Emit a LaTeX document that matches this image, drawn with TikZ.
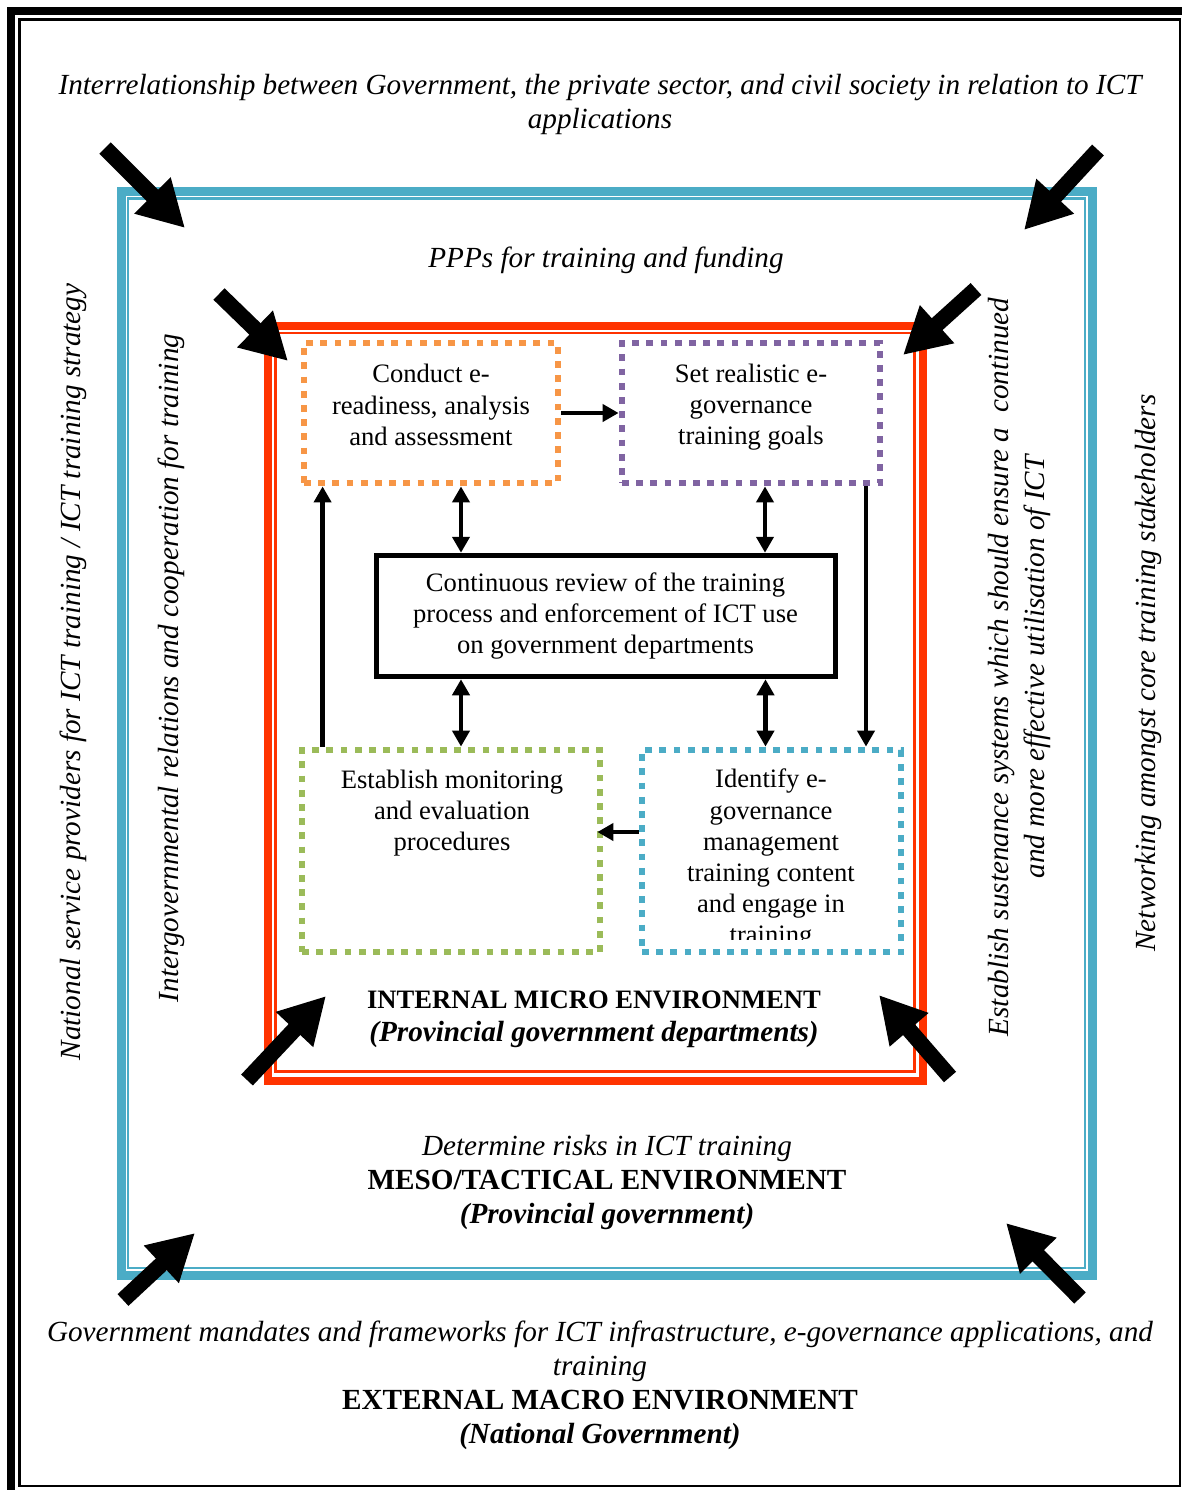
\documentclass[tikz,border=0pt]{standalone}
\usepackage{fontspec}
\setmainfont{Liberation Serif}
\usetikzlibrary{positioning, arrows.meta}

\definecolor{frameblue}{HTML}{4BACC6}
\definecolor{framered}{HTML}{FF3300}
\definecolor{dotorange}{HTML}{F79646}
\definecolor{dotpurple}{HTML}{8064A2}
\definecolor{dotgreen}{HTML}{9BBB59}

\tikzset{
	dotbox/.style={draw=#1, line width=3.4pt, dash pattern=on 3.4pt off 3.7pt, inner sep=0pt},
	boxtext/.style={align=center, font=\fontsize{13.3}{15.6}\selectfont},
	frametext/.style={align=center, font=\fontsize{14.6}{17}\selectfont\itshape},
	link/.style={line width=2.3pt, -{Triangle[length=8pt,width=8.5pt]}},
	twoway/.style={line width=2.3pt, {Triangle[length=8pt,width=8.5pt]}-{Triangle[length=8pt,width=8.5pt]}},
	bigarrow/.style={line width=8pt, -{Triangle[length=23pt,width=24pt]}},
}

\begin{document}
\begin{tikzpicture}[x=0.5pt, y=-0.5pt]
					\useasboundingbox[fill=white] (0,0) rectangle (1182,1490);
					
					% page frame
					\draw[line width=4pt] (11,1490) -- (11,11) -- (1182,11);
					\draw[line width=1.2pt] (19.5,19.5) rectangle (1180,1486);
					% meso frame
					\draw[frameblue, line width=4.5pt] (121,191.5) rectangle (1092.5,1275);
					\draw[frameblue, line width=1.25pt] (128,198.5) rectangle (1085,1268);
					% micro frame
					\draw[framered, line width=4pt] (267.5,325.5) rectangle (922.5,1081);
					\draw[framered, line width=1.25pt] (275.5,333) rectangle (914.5,1071.5);
					
					\node[dotbox=dotorange, minimum width=127pt, minimum height=70pt] (conduct) at (431,413) {};
					\node[dotbox=dotpurple, minimum width=129pt, minimum height=70pt] (goals) at (751,413) {};
					\node[dotbox=dotgreen, minimum width=149pt, minimum height=101pt] (monitor) at (451,851) {};
					\node[dotbox=frameblue, minimum width=129.5pt, minimum height=101pt] (identify) at (771.5,851) {};
					\node[boxtext, draw, line width=2.5pt, minimum width=229.5pt, minimum height=60.75pt] (review) at (605.5,616)
						{Continuous review of the training\\process and enforcement of ICT use\\on government departments};
					
					\node[boxtext] (conducttext) at (431,405) {Conduct e-\\readiness, analysis\\and assessment};
					\node[boxtext] (goalstext) at (751,407) {Set realistic e-\\governance\\training goals};
					\node[boxtext] (monitortext) at (452,813) {Establish monitoring\\and evaluation\\procedures};
					\begin{scope}
						\clip (645,753) rectangle (898,939);
						\node[boxtext, anchor=north] (identifytext) at (771,762) {Identify e-\\governance\\management\\training content\\and engage in\\training};
					\end{scope}
					
					\draw[link] (conduct) -- (goals);
					\draw[link] ([xshift=12pt]monitor.north west) -- ([xshift=12pt]monitor.north west |- conduct.south);
					\draw[twoway] ([xshift=15pt]conduct.south) -- ([xshift=15pt]conduct.south |- review.north);
					\draw[twoway] ([xshift=7pt]goals.south) -- ([xshift=7pt]goals.south |- review.north);
					\draw[twoway] ([xshift=15pt]conduct.south |- review.south) -- ([xshift=15pt]conduct.south |- monitor.north);
					\draw[twoway] ([xshift=-3pt]identify.north |- review.south) -- ([xshift=-3pt]identify.north);
					\draw[link] ([xshift=57.5pt]goals.south) -- ([xshift=57.5pt]goals.south |- identify.north);
					\draw[link] ([yshift=9.5pt]identify.west) -- ([yshift=9.5pt, xshift=-3pt]monitor.east |- identify.west);
					
					% environment labels
					\node[frametext] (relations) at (600,104) {Interrelationship between Government, the private sector, and civil society in relation to ICT\\applications};
					\node[frametext] (ppp) at (606,260) {PPPs for training and funding};
					\node[frametext, rotate=90] (providers) at (73,672) {National service providers for ICT training / ICT training strategy};
					\node[frametext, rotate=90] (igr) at (171,668) {Intergovernmental relations and cooperation for training};
					\node[frametext, rotate=90, font=\fontsize{14.6}{18}\selectfont\itshape] (sustain) at (1019,667)
						{Establish sustenance systems which should ensure a\ \ continued\\and more effective utilisation of ICT};
					\node[frametext, rotate=90] (network) at (1148,673) {Networking amongst core training stakeholders};
					\node[align=center, font=\fontsize{13.3}{16.5}\selectfont\bfseries] (micro) at (594,1019)
						{INTERNAL MICRO ENVIRONMENT\\\fontsize{14.6}{16.5}\selectfont\textit{(Provincial government departments)}};
					\node[frametext] (meso) at (607,1182)
						{Determine risks in ICT training\\\textbf{\upshape MESO/TACTICAL ENVIRONMENT}\\\textbf{(Provincial government)}};
					\node[frametext] (macro) at (600,1385)
						{Government mandates and frameworks for ICT infrastructure, e-governance applications, and\\training\\\textbf{\upshape EXTERNAL MACRO ENVIRONMENT}\\\textbf{(National Government)}};
					
					% pressure arrows
					\coordinate (otl) at (105,148); \coordinate (otltip) at (185,228);
					\coordinate (otr) at (1098,150); \coordinate (otrtip) at (1024,230);
					\coordinate (obl) at (123,1300); \coordinate (obltip) at (195,1233);
					\coordinate (obr) at (1080,1298); \coordinate (obrtip) at (1006,1223);
					\coordinate (itl) at (219,294); \coordinate (itltip) at (288,361);
					\coordinate (itr) at (976,289); \coordinate (itrtip) at (903,355);
					\coordinate (ibl) at (247,1080); \coordinate (ibltip) at (326,996);
					\coordinate (ibr) at (950,1077); \coordinate (ibrtip) at (879,995);
					\foreach \a in {otl, otr, obl, obr, itl, itr, ibl, ibr}
						\draw[bigarrow] (\a) -- (\a tip);
				\end{tikzpicture}
\end{document}
